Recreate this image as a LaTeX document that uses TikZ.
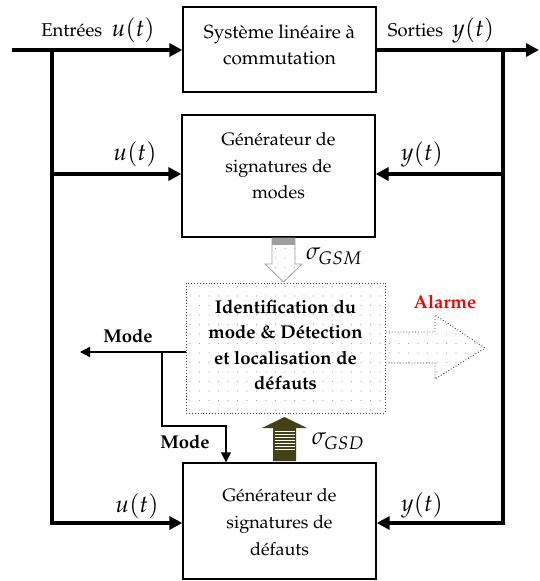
\documentclass[tikz,border=0pt]{standalone}
\usepackage[T1]{fontenc}
\usepackage{mathpazo}
\usetikzlibrary{arrows.meta,patterns.meta,calc}
\definecolor{olivedark}{RGB}{66,66,22}
\newcommand\mymath[1]{{\fontsize{24}{26}\selectfont$#1$}}
\begin{document}
\begin{tikzpicture}[x=1pt,y=-1pt,
  box/.style={draw,line width=1.3pt,minimum width=193pt,align=center,inner sep=0pt},
  bigline/.style={line width=4.5pt},
  bigarrow/.style={bigline,-{Triangle[length=13pt,width=13pt]}},
  thinarrow/.style={line width=1.3pt,-{Triangle[length=10pt,width=10pt]}},
  lbl/.style={inner sep=0pt,font=\fontsize{18.5}{20}\selectfont},
  modelbl/.style={inner sep=0pt,font=\bfseries\fontsize{18.5}{20}\selectfont},
  dotsfill/.style={pattern={Dots[distance=9.5pt,radius=0.7pt]},pattern color=gray!70}
]
\useasboundingbox (0,0) rectangle (539,581);

% boxes
\node[box,minimum height=85pt] (sys) at (279.5,49.5) {};
\node[inner sep=0pt,align=center,font=\fontsize{19}{26}\selectfont] (syst) at (279.5,45) {Syst\`eme lin\'eaire \`a\\commutation};
\node[box,minimum height=122pt] (gsm) at (278.5,176) {};
\node[inner sep=0pt,align=center,font=\fontsize{18}{26.5}\selectfont] (gsmt) at (278.5,166) {G\'en\'erateur de\\signatures de\\modes};
\node[draw=black!75,dotted,line width=0.9pt,dotsfill,minimum width=199pt,minimum height=130pt] (mid) at (285.5,348) {};
\node[inner sep=0pt,align=center,font=\bfseries\fontsize{18.5}{25.5}\selectfont] (midt) at (285.5,345) {Identification du\\mode \& D\'etection\\et localisation de\\d\'efauts};
\node[box,minimum height=116pt] (gsd) at (279.5,521) {};
\node[inner sep=0pt,align=center,font=\fontsize{18}{27}\selectfont] (gsdt) at (279.5,522) {G\'en\'erateur de\\signatures de\\d\'efauts};

% coordinates
\coordinate (in) at (12,50);
\coordinate (out) at (539,50);
\coordinate (jl) at (52,50);
\coordinate (jr) at (503,50);
\coordinate (ml) at (52,174);
\coordinate (mr) at (503,174);
\coordinate (bl) at (52,523);
\coordinate (br) at (503,523);
\coordinate (modeL) at (80,352);
\coordinate (mb) at (162,352);
\coordinate (mc) at (162,426);
\coordinate (md) at (226,426);

% main lines
\draw[bigarrow] (in) -- (in -| sys.west);
\draw[bigarrow] (jl -| sys.east) -- (out);
\draw[bigline] ([yshift=-2.25pt]jl) -- (bl);
\draw[bigline] ([yshift=-2.25pt]jr) -- (br);
\draw[bigarrow] (bl) ++(-2.25pt,0) -- (bl -| gsd.west);
\draw[bigarrow] (br) ++(2.25pt,0) -- (br -| gsd.east);
\draw[bigarrow] (ml) -- (ml -| gsm.west);
\draw[bigarrow] (mr) -- (mr -| gsm.east);

% mode lines
\draw[thinarrow] (mb -| mid.west) -- (modeL);
\draw[thinarrow] (mb) -- (mc) -- (md) -- (md |- gsd.north);

% sigma GSM arrow
\draw[gray!75,line width=0.8pt,dotsfill] (272,238) -- (295,238) -- (295,264) -- (302,264) -- (283.5,282) -- (265,264) -- (272,264) -- cycle;
\fill[gray!75] (272,238) rectangle (295,245);

% sigma GSD arrow
\fill[olivedark] (273,461) -- (273,428) -- (262,428) -- (284.5,417) -- (307,428) -- (296,428) -- (296,461) -- cycle;
\foreach \yy in {431,434,...,449} \draw[white,line width=1pt] (274.5,\yy) -- (294.5,\yy);

% Alarme arrow
\fill[dotsfill] (386,332) -- (435,332) -- (435,315) -- (485,348) -- (435,379) -- (435,363) -- (386,363) -- cycle;
\draw[black!75,dotted,line width=0.9pt] (386,332) -- (435,332) -- (435,315) -- (485,348) -- (435,379) -- (435,363) -- (386,363);

% labels
\node[lbl] (lin) at (98,30) {Entr\'ees\ \ \mymath{u(t)}};
\node[lbl] (lout) at (441,30) {Sorties\ \ \mymath{y(t)}};
\node[lbl] (u1) at (135,154) {\mymath{u(t)}};
\node[lbl] (y1) at (422,154) {\mymath{y(t)}};
\node[lbl] (u2) at (137,506) {\mymath{u(t)}};
\node[lbl] (y2) at (422,505) {\mymath{y(t)}};
\node[lbl] (sgsm) at (334,256) {\mymath{\sigma_{GSM}}};
\node[lbl] (sgsd) at (338,441) {\mymath{\sigma_{GSD}}};
\node[modelbl] (m1) at (128,336) {Mode};
\node[modelbl] (m2) at (185,442) {Mode};
\node[modelbl,text=red] (alarm) at (445,302) {Alarme};
\end{tikzpicture}
\end{document}
